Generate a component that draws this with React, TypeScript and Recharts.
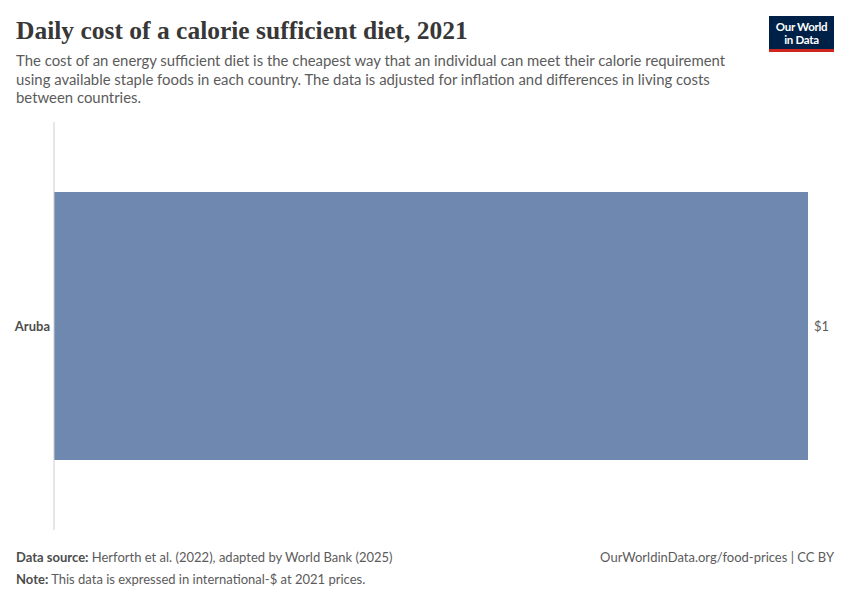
import { BarChart, Bar, XAxis, YAxis, LabelList } from "recharts";

const countries = ["Aruba"];
const costs = [1.0];

const data = countries.map((country, i) => ({ country, cost: costs[i] }));

const subtitleLines = [
  "The cost of an energy sufficient diet is the cheapest way that an individual can meet their calorie requirement",
  "using available staple foods in each country. The data is adjusted for inflation and differences in living costs",
  "between countries.",
];

const grey = "#5b5b5b";

export default function App() {
  return (
    <div
      style={{
        position: "absolute",
        left: 0,
        top: 0,
        width: 850,
        height: 600,
        background: "#fff",
        fontFamily: "Lato, sans-serif",
      }}
    >
      {/* Header */}
      <div
        style={{
          position: "absolute",
          left: 16,
          top: 13,
          fontFamily: "'Liberation Serif', 'DejaVu Serif', serif",
          fontSize: 25.5,
          fontWeight: 700,
          color: "#373737",
          lineHeight: "36px",
        }}
      >
        Daily cost of a calorie sufficient diet, 2021
      </div>
      <div
        style={{
          position: "absolute",
          left: 16,
          top: 51,
          fontSize: 14.9,
          lineHeight: "18.5px",
          color: grey,
        }}
      >
        {subtitleLines.map((l) => (
          <div key={l}>{l}</div>
        ))}
      </div>

      {/* Logo */}
      <div
        style={{
          position: "absolute",
          left: 769,
          top: 16,
          width: 65,
          height: 36,
          background: "#002147",
          borderBottom: "3px solid #ce261e",
          boxSizing: "border-box",
          color: "#fff",
          fontSize: 11.5,
          fontWeight: 700,
          lineHeight: "13px",
          textAlign: "center",
          paddingTop: 4,
          letterSpacing: -0.3,
        }}
      >
        <div>Our World</div>
        <div>in Data</div>
      </div>

      {/* Chart */}
      <div style={{ position: "absolute", left: 0, top: 122 }}>
        <BarChart
          width={850}
          height={408}
          data={data}
          layout="vertical"
          margin={{ top: 0, right: 42, bottom: 0, left: 0 }}
        >
          <XAxis type="number" hide domain={[0, "dataMax"]} />
          <YAxis
            type="category"
            dataKey="country"
            width={54}
            axisLine={{ stroke: "#cccccc" }}
            tickLine={false}
            tickSize={0}
            tickMargin={4}
            tick={{ fill: "#4d4d4d", fontSize: 13, fontWeight: 700 }}
          />
          <Bar
            dataKey="cost"
            fill="#6f88b0"
            barSize={268}
            isAnimationActive={false}
          >
            <LabelList
              dataKey="cost"
              position="right"
              offset={6}
              formatter={(v: number) => `$${Math.round(v)}`}
              style={{ fill: grey, fontSize: 13 }}
            />
          </Bar>
        </BarChart>
      </div>

      {/* Footer */}
      <div
        style={{
          position: "absolute",
          left: 16,
          top: 546,
          fontSize: 13,
          lineHeight: "22px",
          color: grey,
        }}
      >
        <div>
          <span style={{ fontWeight: 700, color: "#4d4d4d" }}>Data source:</span>{" "}
          Herforth et al. (2022), adapted by World Bank (2025)
        </div>
        <div>
          <span style={{ fontWeight: 700, color: "#4d4d4d" }}>Note:</span> This
          data is expressed in international-$ at 2021 prices.
        </div>
      </div>
      <div
        style={{
          position: "absolute",
          right: 16,
          top: 546,
          fontSize: 13,
          lineHeight: "22px",
          color: grey,
        }}
      >
        OurWorldinData.org/food-prices | CC BY
      </div>
    </div>
  );
}
